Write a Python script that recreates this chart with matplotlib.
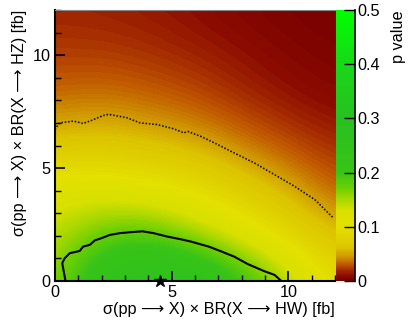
import matplotlib

matplotlib.use("Agg")
import matplotlib.pyplot as plt
import numpy as np
from matplotlib.colors import LinearSegmentedColormap
from matplotlib.ticker import MultipleLocator

plt.rcParams["font.family"] = ["Liberation Sans", "DejaVu Sans"]

# grid of the p-value scan, x = sigma*BR(HW), y = sigma*BR(HZ)
GRID_X = [0, 2, 4, 6, 8, 10, 12]
GRID_Y = [0, 2, 4, 6, 8, 10, 12]
P_VALUES = [
    [0.160, 0.240, 0.280, 0.260, 0.210, 0.150, 0.090],  # y = 0
    [0.140, 0.180, 0.185, 0.155, 0.120, 0.085, 0.058],  # y = 2
    [0.120, 0.120, 0.110, 0.095, 0.072, 0.053, 0.032],  # y = 4
    [0.062, 0.066, 0.060, 0.053, 0.040, 0.028, 0.019],  # y = 6
    [0.036, 0.039, 0.035, 0.029, 0.020, 0.013, 0.008],  # y = 8
    [0.024, 0.024, 0.021, 0.017, 0.012, 0.007, 0.004],  # y = 10
    [0.017, 0.016, 0.014, 0.010, 0.006, 0.003, 0.0015],  # y = 12
]

# solid contour
SOLID_X = [0.45, 0.31, 0.41, 0.63, 1.06, 1.2, 1.49, 1.71, 2.0, 2.35, 2.79, 3.22, 3.75,
           4.22, 4.8, 5.38, 5.81, 6.6, 7.1, 7.68, 8.26, 8.98, 9.41, 9.7]
SOLID_Y = [0.0, 0.79, 1.0, 1.23, 1.33, 1.52, 1.6, 1.8, 1.9, 2.04, 2.12, 2.16, 2.2,
           2.12, 1.97, 1.85, 1.75, 1.52, 1.32, 1.08, 0.75, 0.43, 0.27, 0.0]

# dotted contour
DOTTED_X = [0.0, 0.05, 0.19, 0.77, 0.92, 1.2, 1.49, 2.07, 2.3, 3.08, 3.65, 4.37, 5.09,
            5.52, 5.7, 6.24, 6.82, 7.68, 8.54, 9.41, 10.27, 11.14, 11.93]
DOTTED_Y = [6.7, 6.79, 7.0, 7.08, 7.05, 6.98, 7.08, 7.33, 7.38, 7.23, 7.0, 6.93, 6.74,
            6.56, 6.62, 6.41, 6.12, 5.67, 5.23, 4.71, 4.19, 3.6, 2.79]

BEST_FIT = (4.5, 0.0)

CBAR_TICKS = [0, 0.1, 0.2, 0.3, 0.4, 0.5]
CBAR_LABELS = ["0", "0.1", "0.2", "0.3", "0.4", "0.5"]

X_LABEL = "σ(pp ⟶ X) × BR(X ⟶ HW) [fb]"
Y_LABEL = "σ(pp ⟶ X) × BR(X ⟶ HZ) [fb]"
Z_LABEL = "p value"

PVAL_STOPS = [0.0, 0.01, 0.02, 0.03, 0.045, 0.06, 0.1, 0.13, 0.15, 0.17, 0.2, 0.3, 0.4, 0.5]
PVAL_COLORS = ["#780000", "#8c0c00", "#a83000", "#c05800", "#d09800", "#dcc400", "#e4e000",
               "#d8e000", "#a8d800", "#70d000", "#38c418", "#28c020", "#18d818", "#00ff00"]


def make_cmap():
    stops = [s / 0.5 for s in PVAL_STOPS]
    return LinearSegmentedColormap.from_list("pval", list(zip(stops, PVAL_COLORS)))


def main() -> None:
    fig = plt.figure(figsize=(4.11, 3.24), dpi=100)
    ax = fig.add_axes([0.1338, 0.1327, 0.6813, 0.8364])
    cax = fig.add_axes([0.8175, 0.1327, 0.0462, 0.8364])

    dx = (GRID_X[1] - GRID_X[0]) / 2
    dy = (GRID_Y[1] - GRID_Y[0]) / 2
    im = ax.imshow(
        np.array(P_VALUES),
        origin="lower",
        extent=(GRID_X[0] - dx, GRID_X[-1] + dx, GRID_Y[0] - dy, GRID_Y[-1] + dy),
        cmap=make_cmap(),
        vmin=0,
        vmax=0.5,
        interpolation="bicubic",
        aspect="auto",
    )
    ax.plot(SOLID_X, SOLID_Y, color="black", lw=1.5, solid_joinstyle="round")
    ax.plot(DOTTED_X, DOTTED_Y, color="black", lw=1.1, linestyle=(0, (1, 1.2)))
    ax.plot(*BEST_FIT, marker="*", color="black", markersize=9, clip_on=False, zorder=5)

    ax.set_xlim(0, 12)
    ax.set_ylim(0, 12)
    ax.xaxis.set_major_locator(MultipleLocator(5))
    ax.xaxis.set_minor_locator(MultipleLocator(1))
    ax.yaxis.set_major_locator(MultipleLocator(5))
    ax.yaxis.set_minor_locator(MultipleLocator(1))
    ax.tick_params(which="both", direction="in", labelsize=11.7, top=False, right=False)
    ax.tick_params(which="major", length=7, width=1.2)
    ax.tick_params(which="minor", length=4, width=1.0)
    ax.tick_params(axis="x", pad=3)
    ax.tick_params(axis="y", pad=3)
    for side in ("left", "bottom"):
        ax.spines[side].set_linewidth(1.5)
    ax.spines["top"].set_color("#888888")
    ax.spines["top"].set_linewidth(0.8)
    ax.spines["right"].set_visible(False)

    ax.set_xlabel(X_LABEL, fontsize=11.7, loc="right", labelpad=1)
    ax.set_ylabel(Y_LABEL, fontsize=11.7, loc="top", labelpad=4)

    cb = fig.colorbar(im, cax=cax)
    cb.outline.set_visible(False)
    cb.set_ticks(CBAR_TICKS)
    cb.set_ticklabels(CBAR_LABELS)
    cax.tick_params(direction="in", length=8, width=1.0, labelsize=11.7, pad=2)
    cax.axvline(1, color="black", lw=1.2, clip_on=False)
    cax.set_ylabel(Z_LABEL, fontsize=11.7, loc="top", labelpad=8)

    fig.savefig("out.png", dpi=100)
    plt.close(fig)


if __name__ == "__main__":
    main()
